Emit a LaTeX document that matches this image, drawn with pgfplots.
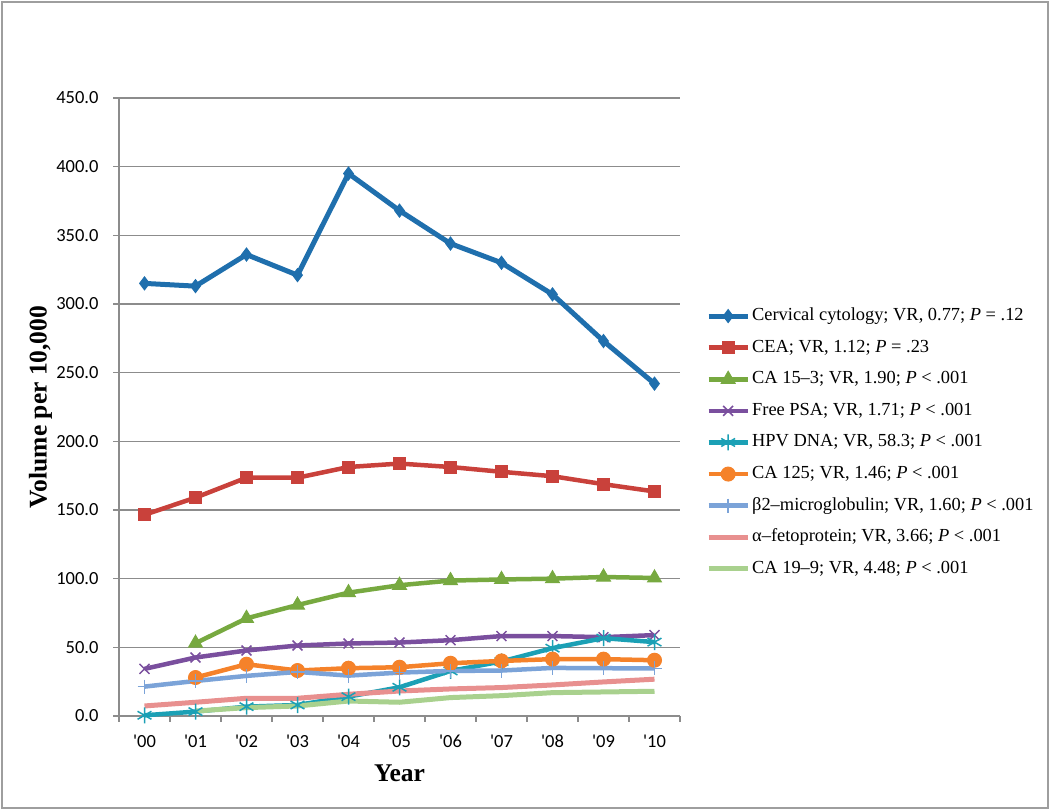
\documentclass[border=0pt]{standalone}
\usepackage{fontspec}
\setmainfont{Liberation Serif}
\newfontfamily\tickfont{Carlito}
\usepackage{pgfplots}
\pgfplotsset{compat=1.18}

\definecolor{cCerv}{HTML}{1F6FAD}
\definecolor{cCEA}{HTML}{C9413B}
\definecolor{cCA153}{HTML}{77A940}
\definecolor{cPSA}{HTML}{7A4F9E}
\definecolor{cHPV}{HTML}{1BA0B5}
\definecolor{cCA125}{HTML}{F5822A}
\definecolor{cB2}{HTML}{7BA3D8}
\definecolor{cAFP}{HTML}{E8908F}
\definecolor{cCA199}{HTML}{A9D18E}
\definecolor{axgray}{HTML}{8C8C8C}

\begin{document}
\begin{tikzpicture}[x=1pt,y=1pt]
\useasboundingbox (0,0) rectangle (1050,810);
\draw[color=black!38, line width=2pt] (2,2) rectangle (1048,808);
\begin{axis}[
    scale only axis,
    width=561pt, height=618pt,
    at={(119pt,94pt)}, anchor=south west,
    xmin=-0.5, xmax=10.5,
    ymin=0, ymax=450,
    axis lines*=left,
    axis line style={draw=axgray, line width=1.5pt},
    xtick={0,...,10},
    xticklabels={\textquotesingle00,\textquotesingle01,\textquotesingle02,\textquotesingle03,\textquotesingle04,\textquotesingle05,\textquotesingle06,\textquotesingle07,\textquotesingle08,\textquotesingle09,\textquotesingle10},
    minor xtick={-0.5,0.5,...,10.5},
    ytick={0,50,...,450},
    tick align=outside,
    major tick length=6pt,
    minor tick length=6pt,
    x tick style={draw=none},
    minor x tick style={draw=axgray, line width=1.5pt},
    y tick style={draw=axgray, line width=1.5pt},
    ymajorgrids,
    major grid style={draw=axgray, line width=1.5pt},
    tick label style={font=\fontsize{18.5}{21}\tickfont},
    yticklabel style={xshift=-11pt, /pgf/number format/.cd, fixed, fixed zerofill, precision=1, assume math mode=true},
    xticklabel style={yshift=-9pt},
    xlabel={Year},
    ylabel={Volume per 10,000},
    label style={font=\fontsize{25.5}{28}\selectfont\bfseries},
    xlabel style={at={(axis description cs:0.5,-0.1052)}, anchor=base},
    ylabel style={at={(axis description cs:-0.1292,0.5)}, anchor=base, rotate=0},
    legend image code/.code={\draw[mark repeat=2,mark phase=2,#1] plot coordinates {(0pt,0pt) (19.5pt,0pt) (39pt,0pt)};},
    legend style={at={(axis description cs:1.0463,0.4426)}, anchor=west,
        draw=none, fill=none, inner sep=0pt, row sep=13.6pt,
        nodes={inner sep=0pt, text height=13.5pt, text depth=4.5pt, font=\fontsize{18.4}{22}\selectfont},
        cells={anchor=west},
        /tikz/every odd column/.append style={column sep=2pt}},
    legend cell align=left,
    every axis plot/.append style={line width=4.5pt},
    clip=false,
]
% Cervical cytology
\addplot[color=cCerv, line width=5pt, mark=diamond*, mark size=6.5pt, mark options={solid, line width=1pt}] coordinates {
    (0,315) (1,313) (2,336) (3,321) (4,395) (5,368) (6,344) (7,330) (8,307) (9,273) (10,242)
};
% CEA
\addplot[color=cCEA, mark=square*, mark size=6pt, mark options={solid, line width=1pt}] coordinates {
    (0,146.5) (1,159) (2,173.5) (3,173.5) (4,181.3) (5,183.8) (6,181.3) (7,177.8) (8,174.6) (9,168.8) (10,163.5)
};
% CA 15-3
\addplot[color=cCA153, mark=triangle*, mark size=8pt, mark options={solid, line width=1pt}] coordinates {
    (1,53) (2,71.1) (3,80.8) (4,89.8) (5,95.2) (6,98.6) (7,99.4) (8,100) (9,101.2) (10,100.5)
};
% Free PSA
\addplot[color=cPSA, mark=x, mark size=7pt, mark options={solid, line width=1.5pt}] coordinates {
    (0,34.3) (1,42.6) (2,47.7) (3,51.3) (4,52.8) (5,53.5) (6,55.2) (7,58.2) (8,58.2) (9,57.4) (10,58.9)
};
% HPV DNA
\addplot[color=cHPV, mark=asterisk, mark size=8pt, mark options={solid, line width=1.5pt}] coordinates {
    (0,0.5) (1,3.2) (2,6.8) (3,8) (4,14.1) (5,20.9) (6,32.8) (7,39.7) (8,49.4) (9,56.7) (10,53.8)
};
% CA 125
\addplot[color=cCA125, mark=*, mark size=7pt, mark options={solid, line width=1pt}] coordinates {
    (1,28) (2,37.7) (3,33.1) (4,34.8) (5,35.5) (6,38.4) (7,40.1) (8,41.4) (9,41.4) (10,40.6)
};
% beta2-microglobulin
\addplot[color=cB2, mark=+, mark size=7pt, mark options={solid, line width=1.5pt}] coordinates {
    (0,21.4) (1,25.5) (2,29.2) (3,32.1) (4,29.4) (5,31.6) (6,32.8) (7,33.1) (8,35) (9,34.8) (10,34.6)
};
% alpha-fetoprotein
\addplot[color=cAFP, line width=5pt, no marks] coordinates {
    (0,7.3) (1,10) (2,12.9) (3,12.9) (4,15.8) (5,18.2) (6,19.7) (7,20.7) (8,22.6) (9,24.8) (10,26.8)
};
% CA 19-9
\addplot[color=cCA199, line width=5pt, no marks] coordinates {
    (1,3.6) (2,6.1) (3,7.3) (4,10.9) (5,10) (6,13.4) (7,14.8) (8,17) (9,17.5) (10,18)
};
\legend{
    {Cervical cytology; VR, 0.77; \textit{P} = .12},
    {CEA; VR, 1.12; \textit{P} = .23},
    {CA 15–3; VR, 1.90; \textit{P} < .001},
    {Free PSA; VR, 1.71; \textit{P} < .001},
    {HPV DNA; VR, 58.3; \textit{P} < .001},
    {CA 125; VR, 1.46; \textit{P} < .001},
    {β2–microglobulin; VR, 1.60; \textit{P} < .001},
    {α–fetoprotein; VR, 3.66; \textit{P} < .001},
    {CA 19–9; VR, 4.48; \textit{P} < .001}
}
\end{axis}
\end{tikzpicture}
\end{document}
